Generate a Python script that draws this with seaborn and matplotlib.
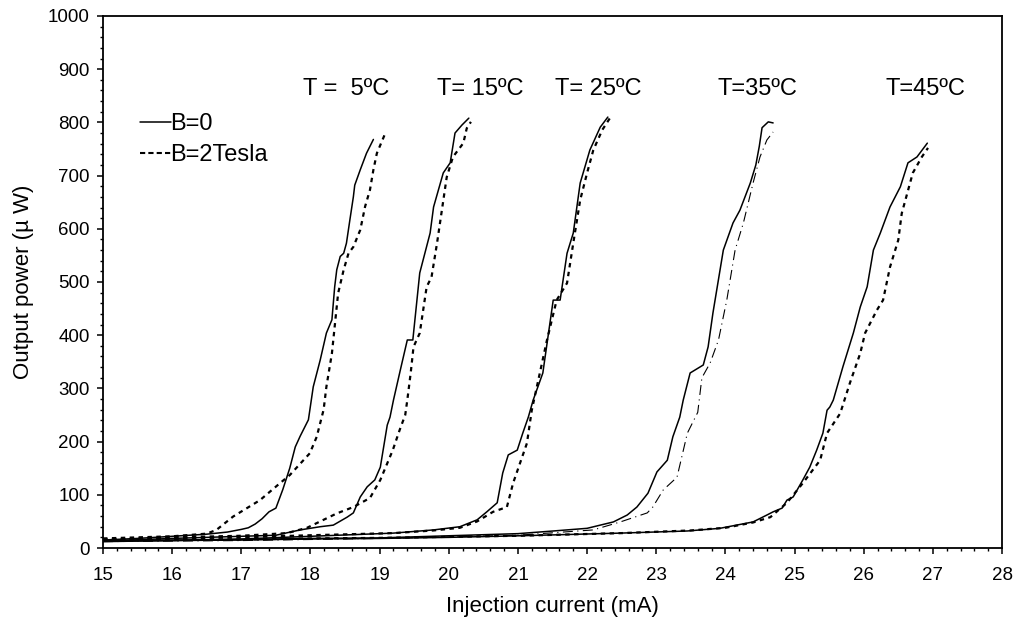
import numpy as np
import pandas as pd
import matplotlib
matplotlib.use("Agg")
import matplotlib.pyplot as plt
from matplotlib.lines import Line2D
from matplotlib.ticker import MultipleLocator
import seaborn as sns

# ---- data (current in mA, power in uW) ----
temps = ["T =  5ºC", "T= 15ºC", "T= 25ºC", "T=35ºC", "T=45ºC"]

x_5_b0 = [15.0, 15.5, 16.0, 16.5, 16.8, 17.0, 17.1, 17.2, 17.3, 17.4, 17.5, 17.6, 17.7, 17.78, 17.85,
          17.97, 18.04, 18.14, 18.23, 18.31, 18.35, 18.38, 18.43, 18.48, 18.52, 18.57, 18.62, 18.64,
          18.72, 18.81, 18.91]
y_5_b0 = [15, 18, 22, 26, 30, 35, 38, 45, 55, 68, 75, 110, 150, 190, 210,
          241, 303, 353, 404, 429, 491, 523, 548, 554, 573, 617, 660, 682,
          711, 742, 768]
x_5_b2 = [15.0, 15.5, 16.0, 16.5, 16.64, 16.88, 17.27, 17.56, 17.70, 17.99, 18.09, 18.19, 18.23,
          18.31, 18.36, 18.40, 18.48, 18.55, 18.62, 18.72, 18.79, 18.86, 18.91, 18.96, 19.07]
y_5_b2 = [18, 20, 22, 27, 34, 59, 90, 122, 137, 178, 209, 260, 303,
          366, 429, 479, 523, 554, 566, 598, 642, 673, 711, 742, 776]

x_15_b0 = [15.0, 16.0, 17.0, 17.5, 17.85, 18.14, 18.33, 18.53, 18.62, 18.72, 18.82, 18.93, 19.01,
           19.11, 19.15, 19.2, 19.3, 19.40, 19.48, 19.58, 19.73, 19.78, 19.92, 20.02, 20.09, 20.19, 20.29]
y_15_b0 = [13, 18, 22, 24, 34, 40, 43, 58, 66, 96, 115, 128, 152,
           231, 246, 278, 335, 391, 391, 517, 592, 641, 705, 724, 780, 795, 808]
x_15_b2 = [15.0, 16.0, 17.0, 17.66, 17.95, 18.38, 18.62, 18.86, 19.01, 19.19, 19.29, 19.37, 19.40,
           19.45, 19.49, 19.58, 19.68, 19.75, 19.83, 19.90, 19.97, 20.06, 20.21, 20.26, 20.32]
y_15_b2 = [16, 20, 23, 28, 38, 65, 77, 94, 128, 184, 222, 250, 278,
           330, 378, 404, 491, 509, 573, 635, 697, 735, 761, 789, 801]

x_25_b0 = [15.0, 16.0, 17.0, 18.0, 19.2, 19.78, 20.16, 20.41, 20.55, 20.70, 20.78, 20.86, 20.99,
           21.07, 21.15, 21.22, 21.36, 21.51, 21.61, 21.71, 21.80, 21.90, 22.04, 22.19, 22.30]
y_25_b0 = [12, 14, 17, 22, 28, 34, 40, 53, 68, 85, 141, 175, 184,
           216, 246, 278, 329, 466, 466, 554, 592, 686, 748, 791, 810]
x_25_b2 = [15.0, 16.0, 17.0, 18.0, 19.2, 19.78, 20.16, 20.41, 20.64, 20.84, 20.93, 21.13, 21.20,
           21.42, 21.56, 21.71, 21.80, 21.90, 22.00, 22.09, 22.22, 22.33]
y_25_b2 = [15, 18, 20, 24, 28, 33, 38, 50, 68, 77, 122, 197, 259,
           391, 466, 498, 573, 654, 705, 748, 786, 808]

x_35_b0 = [15.0, 17.0, 18.0, 19.0, 20.0, 21.0, 21.51, 22.0, 22.19, 22.38, 22.58, 22.72, 22.88,
           23.01, 23.16, 23.24, 23.34, 23.39, 23.49, 23.68, 23.75, 23.82, 23.97, 24.11, 24.21,
           24.36, 24.44, 24.49, 24.53, 24.62, 24.69]
y_35_b0 = [14, 16, 18, 19, 23, 27, 32, 37, 43, 49, 62, 77, 103,
           143, 165, 209, 246, 278, 329, 344, 378, 442, 560, 611, 635,
           686, 720, 755, 790, 801, 799]
x_35_b2 = [15.0, 17.0, 18.0, 19.0, 20.0, 21.0, 22.09, 22.48, 22.87, 22.95, 23.10, 23.30, 23.45,
           23.60, 23.66, 23.78, 23.90, 24.02, 24.14, 24.26, 24.40, 24.50, 24.60, 24.69]
y_35_b2 = [12, 14, 16, 18, 21, 24, 34, 49, 66, 77, 109, 133, 216,
           255, 320, 348, 391, 466, 560, 611, 686, 735, 767, 782]

x_45_b0 = [15.0, 16.0, 17.0, 18.0, 19.0, 20.0, 21.03, 22.48, 23.45, 23.92, 24.40, 24.60, 24.69,
           24.82, 24.89, 24.98, 25.12, 25.22, 25.32, 25.41, 25.47, 25.51, 25.56, 25.70, 25.85,
           25.95, 26.05, 26.14, 26.24, 26.38, 26.53, 26.64, 26.77, 26.92]
y_45_b0 = [13, 14, 15, 17, 18, 20, 23, 28, 32, 37, 49, 62, 68,
           75, 90, 96, 128, 152, 184, 216, 259, 265, 278, 341, 404,
           453, 491, 560, 592, 641, 679, 724, 735, 761]
x_45_b2 = [15.0, 16.0, 17.0, 18.0, 19.0, 20.0, 21.0, 22.5, 23.5, 24.0, 24.4, 24.65, 24.89,
           25.12, 25.37, 25.47, 25.66, 25.80, 25.95, 26.02, 26.19, 26.28, 26.38, 26.50, 26.55,
           26.63, 26.71, 26.84, 26.93]
y_45_b2 = [16, 15, 16, 18, 19, 21, 23, 28, 33, 38, 48, 58, 85,
           122, 165, 216, 253, 310, 366, 404, 447, 466, 528, 579, 629,
           667, 705, 735, 752]

curves = [
    ("5", "B=0", x_5_b0, y_5_b0), ("5", "B=2Tesla", x_5_b2, y_5_b2),
    ("15", "B=0", x_15_b0, y_15_b0), ("15", "B=2Tesla", x_15_b2, y_15_b2),
    ("25", "B=0", x_25_b0, y_25_b0), ("25", "B=2Tesla", x_25_b2, y_25_b2),
    ("35", "B=0", x_35_b0, y_35_b0), ("35", "B=2Tesla", x_35_b2, y_35_b2),
    ("45", "B=0", x_45_b0, y_45_b0), ("45", "B=2Tesla", x_45_b2, y_45_b2),
]
rows = []
for t, b, xs, ys in curves:
    for x, y in zip(xs, ys):
        rows.append(dict(temp=t, field=b, current=x, power=y))
df = pd.DataFrame(rows)

# label anchors (mA, uW)
label_x = [18.51, 20.45, 22.16, 24.46, 26.89]
label_y = 862

# ---- style ----
sns.set_style("ticks")
plt.rcParams["font.family"] = ["Liberation Sans", "DejaVu Sans"]
plt.rcParams["axes.linewidth"] = 1.3
plt.rcParams["text.color"] = "black"
plt.rcParams["axes.labelcolor"] = "black"

fig = plt.figure(figsize=(10.18, 6.32), dpi=100)
fig.patch.set_facecolor("white")
ax = fig.add_axes([0.1012, 0.1329, 0.8831, 0.8418])

for (t, b, xs, ys) in curves:
    sub = df[(df["temp"] == t) & (df["field"] == b)]
    if b == "B=0":
        lw, ls = 1.1, "-"
    elif t == "35":
        lw, ls = 0.8, (0, (9, 4, 1, 4))
    else:
        lw, ls = 1.6, (0, (2, 2))
    sns.lineplot(data=sub, x="current", y="power", color="black",
                 estimator=None, sort=True, ax=ax, legend=False,
                 linewidth=lw, linestyle=ls)

for lab, x in zip(temps, label_x):
    ax.text(x, label_y, lab, ha="center", va="center", fontsize=17, color="black")

ax.set_xlim(15, 28)
ax.set_ylim(0, 1000)
ax.xaxis.set_major_locator(MultipleLocator(1))
ax.xaxis.set_minor_locator(MultipleLocator(0.2))
ax.yaxis.set_major_locator(MultipleLocator(100))
ax.yaxis.set_minor_locator(MultipleLocator(20))
ax.tick_params(axis="both", which="major", direction="out", length=4.5, width=1.1,
               labelsize=13.5, colors="black")
ax.tick_params(axis="both", which="minor", direction="out", length=2.5, width=1.0,
               colors="black")
ax.tick_params(axis="x", which="major", pad=9)
ax.tick_params(axis="y", which="major", pad=5)
for s in ax.spines.values():
    s.set_visible(True)
    s.set_color("black")

ax.set_xlabel("Injection current (mA)", fontsize=16, labelpad=9)
ax.set_ylabel("Output power (µ W)", fontsize=16, labelpad=10)

handles = [Line2D([], [], color="black", linewidth=1.1, linestyle="-"),
           Line2D([], [], color="black", linewidth=1.5, dashes=(2.5, 1.5))]
ax.legend(handles, ["B=0", "B=2Tesla"], loc="upper left",
          bbox_to_anchor=(0.041, 0.818), frameon=False, fontsize=17,
          handlelength=1.3, handletextpad=0.0, borderpad=0, borderaxespad=0,
          labelspacing=0.4)

fig.savefig("out.png", dpi=100, facecolor="white")
plt.close(fig)
